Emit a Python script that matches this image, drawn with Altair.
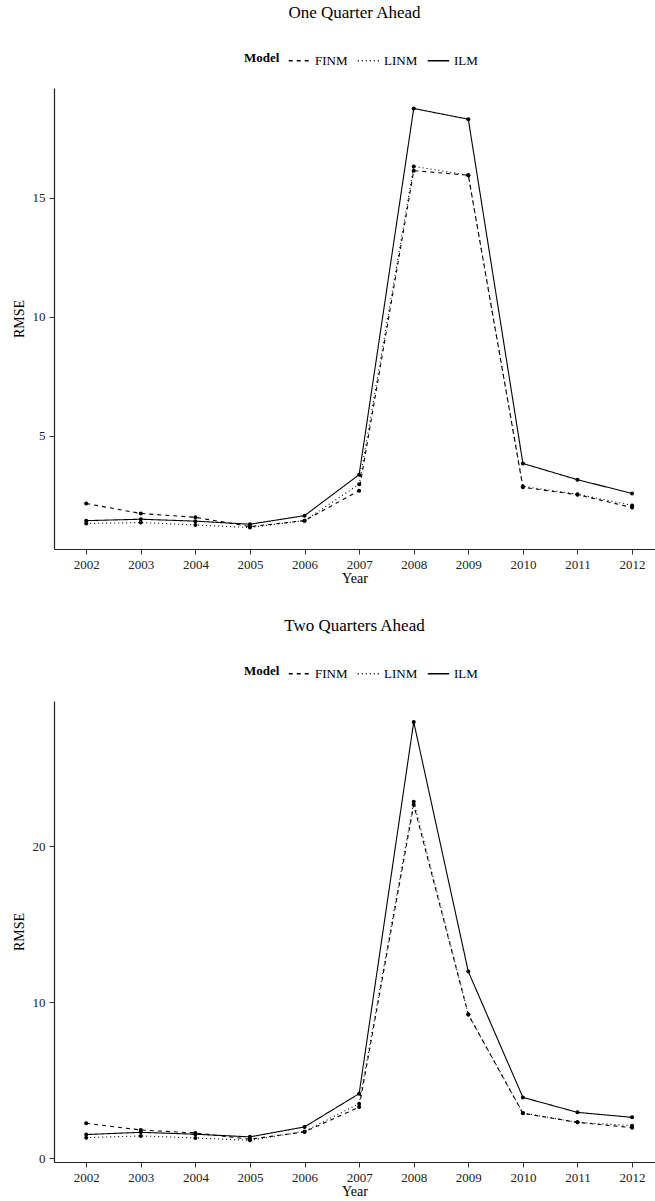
import altair as alt
import pandas as pd

years = list(range(2002, 2013))
models = ["FINM", "LINM", "ILM"]

# One quarter ahead
q1_finm = [2.16, 1.74, 1.58, 1.19, 1.44, 2.70, 16.13, 15.94, 2.84, 2.53, 1.99]
q1_linm = [1.32, 1.36, 1.26, 1.15, 1.44, 2.97, 16.31, 15.94, 2.88, 2.55, 2.08]
q1_ilm = [1.44, 1.50, 1.42, 1.29, 1.65, 3.37, 18.74, 18.29, 3.84, 3.16, 2.58]

# Two quarters ahead
q2_finm = [2.24, 1.81, 1.62, 1.22, 1.69, 3.28, 22.65, 9.21, 2.88, 2.30, 1.96]
q2_linm = [1.32, 1.43, 1.30, 1.15, 1.72, 3.50, 22.85, 9.21, 2.90, 2.30, 2.09]
q2_ilm = [1.52, 1.66, 1.54, 1.37, 2.01, 4.14, 27.96, 11.96, 3.90, 2.94, 2.62]

q1_yticks = [5, 10, 15]
q2_yticks = [0, 10, 20]

FONT = "Liberation Serif"


def make_df(finm, linm, ilm):
    rows = []
    for name, vals in zip(models, [finm, linm, ilm]):
        for yr, v in zip(years, vals):
            rows.append({"Year": yr, "RMSE": v, "Model": name})
    return pd.DataFrame(rows)


def panel(df, title, ydomain, yticks):
    x = alt.X(
        "Year:Q",
        scale=alt.Scale(domain=[2001.41, 2012.42], nice=False, zero=False),
        axis=alt.Axis(values=years, format="d", title="Year"),
    )
    y = alt.Y(
        "RMSE:Q",
        scale=alt.Scale(domain=ydomain, nice=False, zero=False),
        axis=alt.Axis(values=yticks, title="RMSE"),
    )
    dash = alt.StrokeDash(
        "Model:N",
        scale=alt.Scale(domain=models, range=[[4, 4], [1, 3], [1, 0]]),
        legend=alt.Legend(
            title="Model",
            orient="none",
            legendX=190,
            legendY=-39,
            direction="horizontal",
            titleOrient="left",
            titleFontWeight="bold",
            titleFont=FONT,
            titleFontSize=13,
            titleColor="black",
            titlePadding=8,
            labelFont=FONT,
            labelFontSize=13,
            labelColor="black",
            labelOffset=4,
            columnPadding=6,
            symbolType="stroke",
            symbolSize=460,
            symbolStrokeWidth=1.4,
            symbolStrokeColor="black",
        ),
    )
    lines = (
        alt.Chart(df)
        .mark_line(color="black", strokeWidth=1.1, clip=True)
        .encode(x=x, y=y, strokeDash=dash)
    )
    pts = (
        alt.Chart(df)
        .mark_circle(color="black", size=16, opacity=1, clip=True)
        .encode(x=x, y=y, detail="Model:N")
    )
    return alt.layer(lines, pts).properties(
        width=601,
        height=461,
        title=alt.TitleParams(
            title,
            font=FONT,
            fontSize=17,
            fontWeight="normal",
            color="black",
            anchor="middle",
            offset=27,
        ),
    )


top = panel(make_df(q1_finm, q1_linm, q1_ilm), "One Quarter Ahead", [0.25, 19.6], q1_yticks)
bottom = panel(make_df(q2_finm, q2_linm, q2_ilm), "Two Quarters Ahead", [-0.24, 29.3], q2_yticks)

chart = (
    alt.vconcat(top, bottom, spacing=32)
    .resolve_scale(strokeDash="independent")
    .resolve_legend(strokeDash="independent")
    .properties(padding={"left": 12, "top": 4, "right": 0, "bottom": 0})
    .configure_view(stroke=None)
    .configure_axis(
        grid=False,
        domainColor="#222222",
        domainWidth=1.2,
        tickColor="#333333",
        tickSize=5,
        labelFont=FONT,
        labelFontSize=13,
        labelColor="#222222",
        labelPadding=4,
        titleFont=FONT,
        titleFontSize=14,
        titleFontWeight="normal",
        titleColor="black",
    )
    .configure_axisY(titlePadding=6)
    .configure_axisX(titlePadding=0)
)

chart.save("out.html", embed_options={"renderer": "svg", "actions": False})
